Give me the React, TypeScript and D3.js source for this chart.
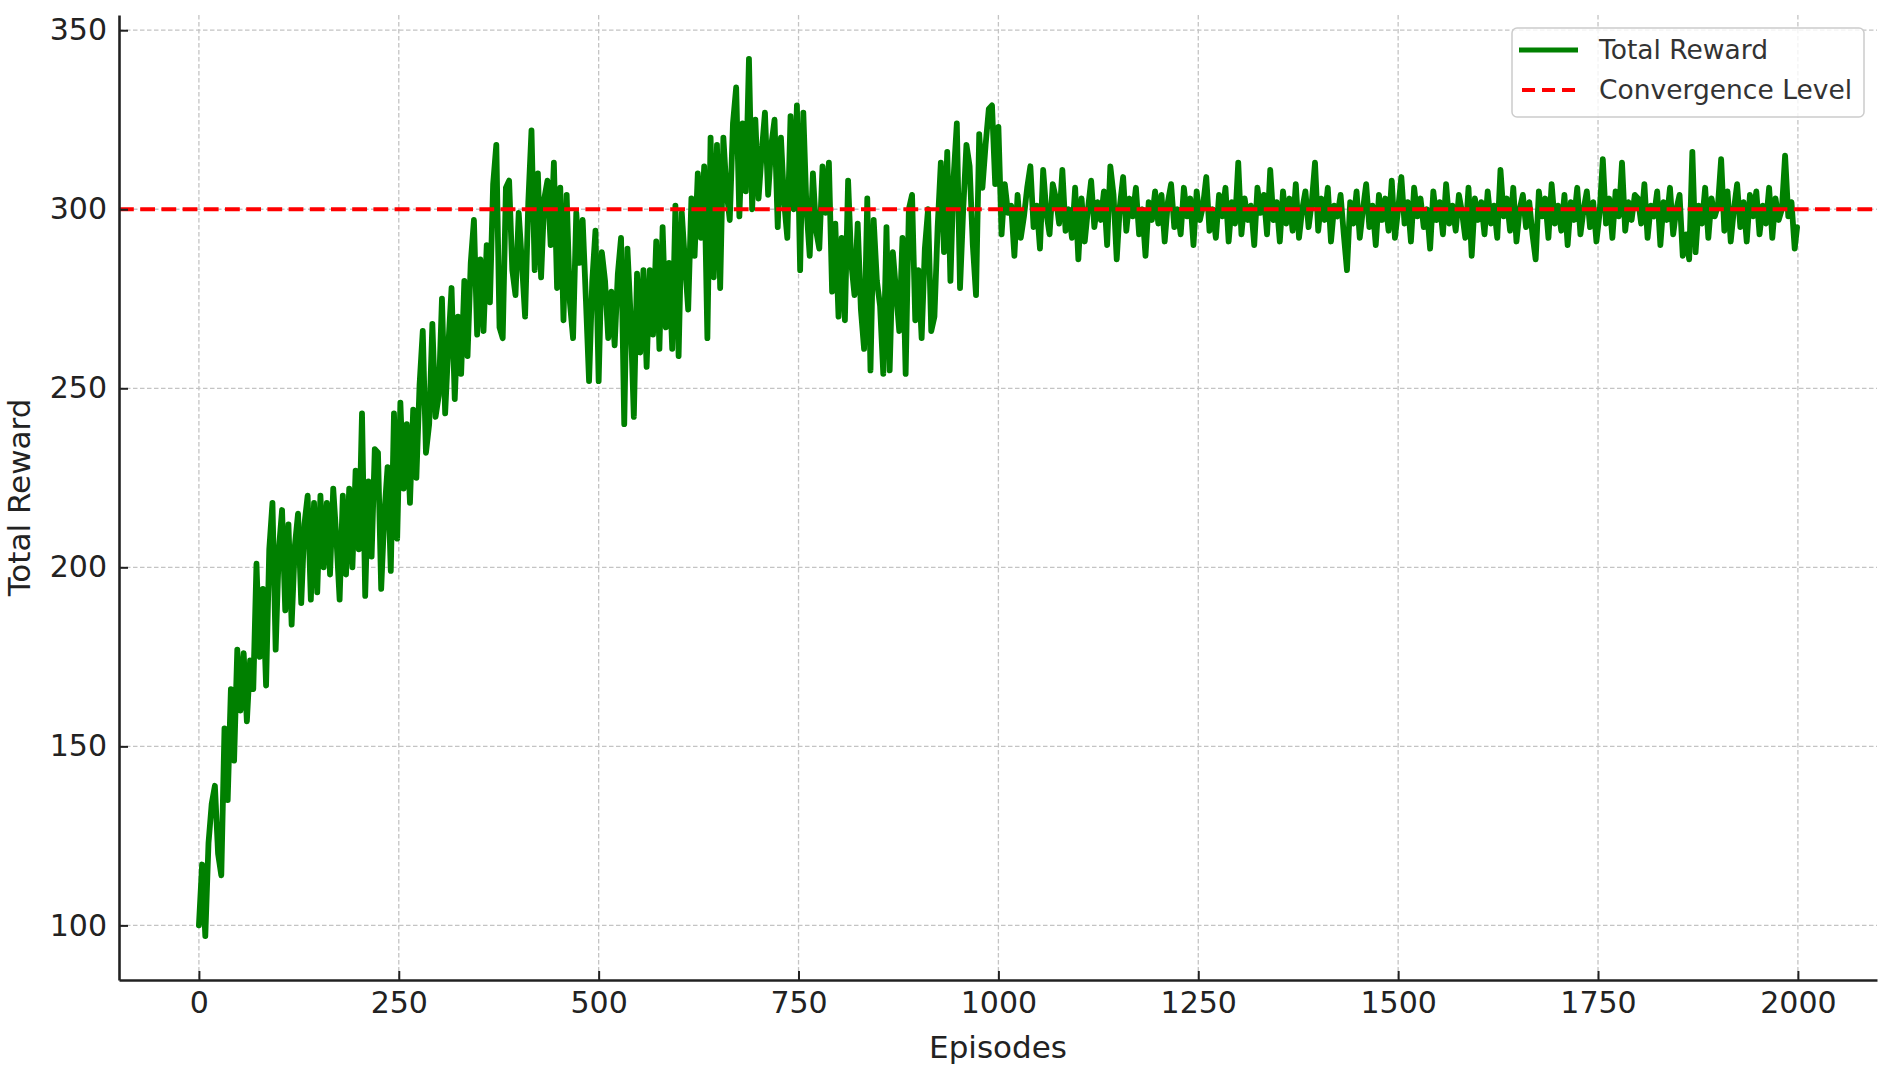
import { useEffect, useRef } from 'react';
import * as d3 from 'd3';

// total reward, one reading every 4 episodes (the very last one is episode 1999)
const rewardEp0 = [100,117,97,123,134,139,120,114,155,135,166,146,177,160,176,157,174,166,201,175,194,167,205,218,177,205,216,188,212,184,206,215,190,212,220,191,218,193,220,200,218,198,222,208,191,220,198,222,200,227];
const rewardEp200 = [205,243,192,224,203,233,232,194,215,228,199,243,208,246,222,240,218,244,225,251,266,232,240,268,242,248,275,243,262,278,247,270,254,280,259,285,297,265,286,266,290,274,307,318,267,264,306,308,283,276];
const rewardEp400 = [299,285,270,302,322,283,310,281,303,308,290,313,278,306,269,304,274,264,299,285,297,275,252,280,294,252,288,280,264,277,262,282,292,240,289,270,242,282,260,283,256,283,265,291,261,295,267,285,261,301];
const rewardEp600 = [259,299,285,272,303,287,310,292,312,264,320,281,318,278,320,305,297,324,334,298,324,305,342,300,325,303,316,327,304,318,325,295,320,302,292,326,300,329,283,327,300,287,310,294,289,312,299,313,277,296];
const rewardEp800 = [270,292,269,308,285,276,296,272,261,303,255,297,280,273,254,295,255,288,277,266,292,254,300,304,269,283,264,289,300,266,270,295,313,288,316,280,309,324,278,300,318,312,290,276,321,306,318,328,329,307];
const rewardEp1000 = [323,293,307,299,301,287,304,292,298,306,312,295,301,289,311,299,293,307,303,296,311,294,300,292,306,286,303,291,300,308,295,302,297,305,290,312,304,286,301,309,294,303,298,306,293,300,287,302,297,305];
const rewardEp1200 = [296,304,291,302,307,295,300,293,306,298,303,290,305,297,301,309,294,300,292,304,298,306,291,302,296,313,293,303,297,301,290,306,299,304,293,311,297,302,291,305,296,303,294,307,292,300,305,295,302,313];
const rewardEp1400 = [294,303,297,306,291,301,298,304,293,283,302,296,305,292,300,307,295,301,290,304,297,303,294,308,292,300,309,296,302,291,306,298,303,295,300,289,305,297,302,293,307,296,301,294,304,299,292,306,287,303];
const rewardEp1600 = [297,302,293,305,296,301,292,311,298,303,294,306,291,300,304,295,302,293,286,305,298,303,292,307,296,301,294,304,290,302,297,306,293,300,305,295,302,291,299,314,296,303,292,305,298,313,294,302,297,304];
const rewardEp1800 = [303,296,307,292,301,298,305,290,302,297,306,293,300,304,287,293,286,316,288,301,296,306,292,303,298,301,314,294,305,291,300,307,295,302,291,304,298,305,293,301,296,306,292,303,297,300,315,298,302,289,295];

const episodeStep = 4;
const lastEpisode = 1999;
const convergenceLevel = 300;
const xTicks = [0, 250, 500, 750, 1000, 1250, 1500, 1750, 2000];
const yTicks = [100, 150, 200, 250, 300, 350];

const rewards = [
  ...rewardEp0, ...rewardEp200, ...rewardEp400, ...rewardEp600, ...rewardEp800,
  ...rewardEp1000, ...rewardEp1200, ...rewardEp1400, ...rewardEp1600, ...rewardEp1800,
];
const data = rewards.map((r, i) => ({ episode: Math.min(i * episodeStep, lastEpisode), reward: r }));

export default function App() {
  const width = 1883;
  const height = 1069;
  const marginTop = 15;
  const marginRight = 6;
  const marginBottom = 89;
  const marginLeft = 119;
  const font = 'DejaVu Sans';
  const ink = '#222';

  // matplotlib style 5% padding on both axes
  const [xMin, xMax] = d3.extent(data, d => d.episode);
  const [yMin, yMax] = d3.extent(data, d => d.reward);
  const xPad = (xMax - xMin) * 0.05;
  const yPad = (yMax - yMin) * 0.05;

  const x = d3.scaleLinear()
    .domain([xMin - xPad, xMax + xPad])
    .range([marginLeft, width - marginRight]);
  const y = d3.scaleLinear()
    .domain([yMin - yPad, yMax + yPad])
    .range([height - marginBottom, marginTop]);

  const line = d3.line().x(d => x(d.episode)).y(d => y(d.reward));

  const gx = useRef();
  const gy = useRef();

  useEffect(() => {
    const styleAxis = g => {
      g.attr('font-family', font).attr('font-size', 30);
      g.select('.domain').attr('stroke', ink).attr('stroke-width', 2.6);
      g.selectAll('.tick line').attr('stroke', ink).attr('stroke-width', 2);
      g.selectAll('.tick text').attr('fill', ink);
    };
    d3.select(gx.current)
      .call(d3.axisBottom(x).tickValues(xTicks).tickFormat(d3.format('d')).tickSize(-9).tickSizeOuter(0).tickPadding(12))
      .call(styleAxis);
    d3.select(gy.current)
      .call(d3.axisLeft(y).tickValues(yTicks).tickFormat(d3.format('d')).tickSize(-9).tickSizeOuter(0).tickPadding(12))
      .call(styleAxis);
  }, [x, y]);

  const legendX = 1512;
  const legendY = 28;

  return (
    <svg width={width} height={height} style={{ position: 'absolute', left: 0, top: 0, background: '#fff' }}>
      {/* grid */}
      <g stroke="#c4c4c4" strokeWidth={1.3} strokeDasharray="4.5 2.5">
        {xTicks.map(t => <line key={'gx' + t} x1={x(t)} x2={x(t)} y1={marginTop} y2={height - marginBottom} />)}
        {yTicks.map(t => <line key={'gy' + t} x1={marginLeft} x2={width - marginRight} y1={y(t)} y2={y(t)} />)}
      </g>

      <path d={line(data)} fill="none" stroke="#008000" strokeWidth={5.8} strokeLinejoin="round" strokeLinecap="round" />

      <line x1={marginLeft} x2={width - marginRight} y1={y(convergenceLevel)} y2={y(convergenceLevel)}
        stroke="#ff0000" strokeWidth={4} strokeDasharray="14.8 6.4" />

      <g ref={gx} transform={`translate(0,${height - marginBottom})`}></g>
      <g ref={gy} transform={`translate(${marginLeft},0)`}></g>

      <text x={(marginLeft + width - marginRight) / 2} y={1058} textAnchor="middle"
        fontFamily={font} fontSize={31} fill={ink}>Episodes</text>
      <text transform={`translate(30,${(marginTop + height - marginBottom) / 2}) rotate(-90)`} textAnchor="middle"
        fontFamily={font} fontSize={31} fill={ink}>Total Reward</text>

      {/* legend */}
      <g>
        <rect x={legendX} y={legendY} width={352} height={89} rx={5} fill="#fff" fillOpacity={0.8} stroke="#cccccc" strokeWidth={1.5} />
        <line x1={legendX + 7} x2={legendX + 66} y1={legendY + 22} y2={legendY + 22} stroke="#008000" strokeWidth={5} />
        <line x1={legendX + 10} x2={legendX + 66} y1={legendY + 62} y2={legendY + 62} stroke="#ff0000" strokeWidth={4} strokeDasharray="13 7" />
        <text x={legendX + 87} y={legendY + 22} dy="0.35em" fontFamily={font} fontSize={26.5} fill="#333">Total Reward</text>
        <text x={legendX + 87} y={legendY + 62} dy="0.35em" fontFamily={font} fontSize={26.5} fill="#333">Convergence Level</text>
      </g>
    </svg>
  );
}
